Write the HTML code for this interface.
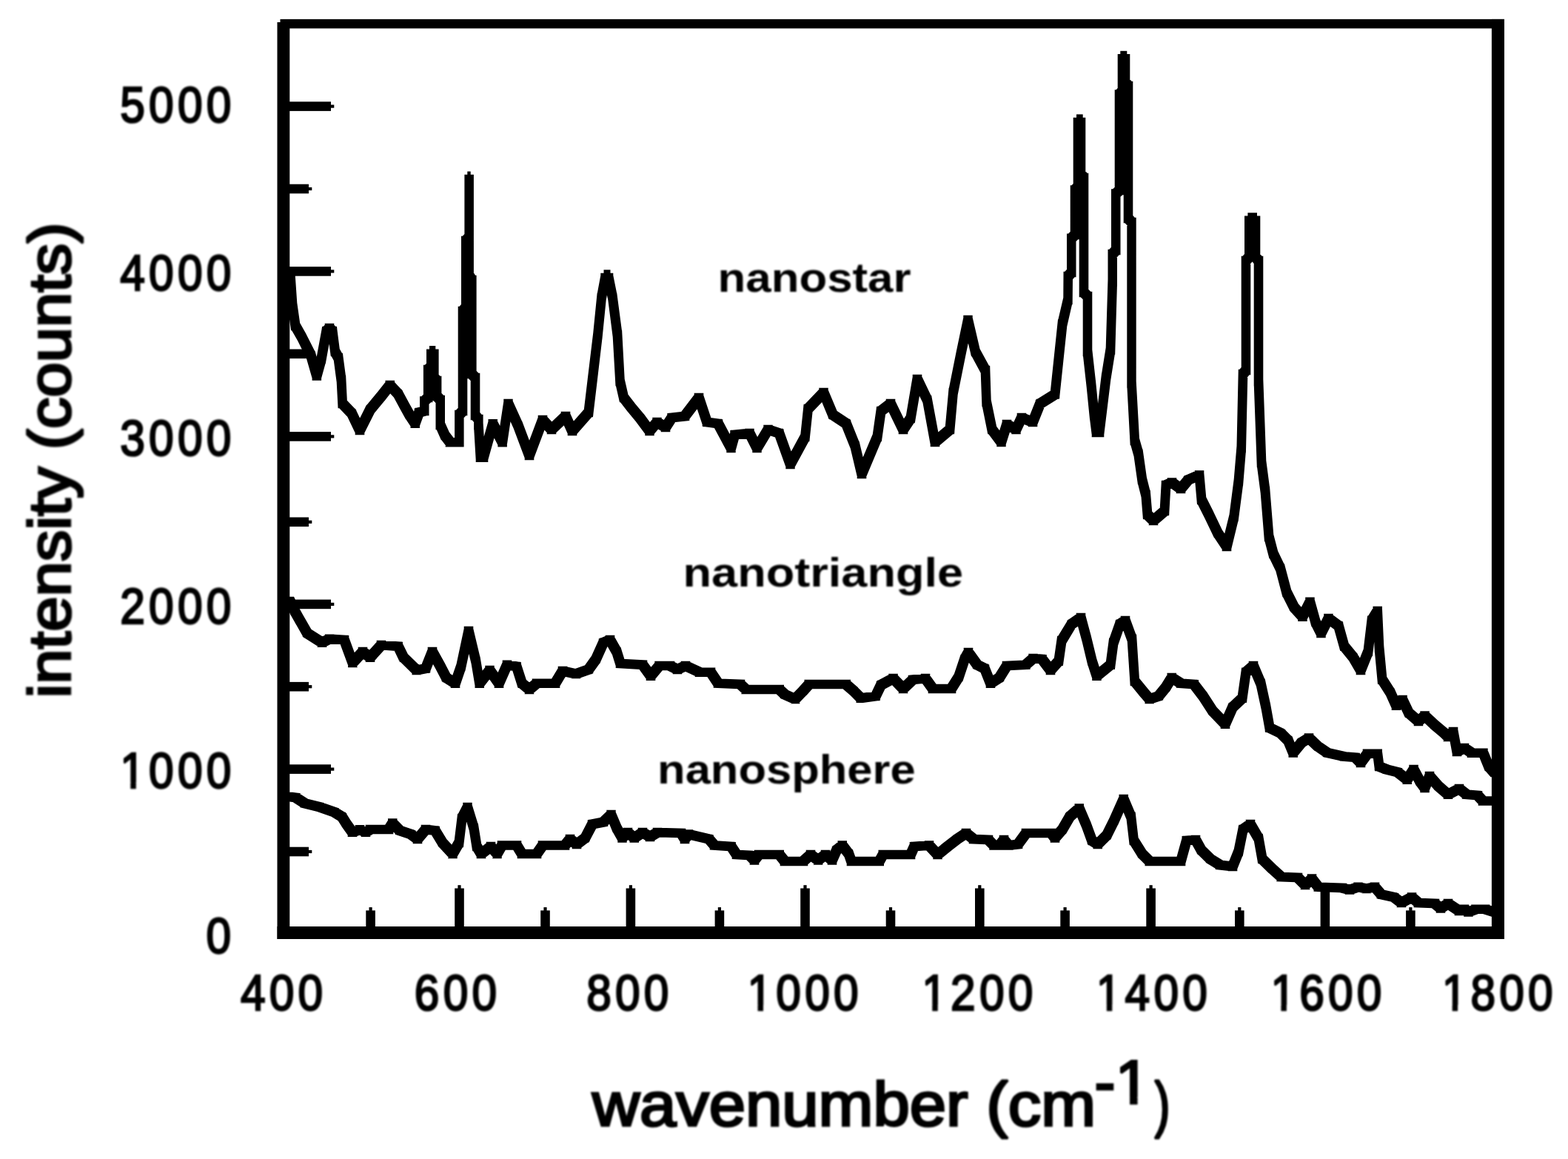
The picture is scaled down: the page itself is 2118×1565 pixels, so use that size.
<!DOCTYPE html>
<html lang="en">
<head>
<meta charset="utf-8">
<title>intensity (counts) vs wavenumber (cm-1)</title>
<style>
html,body{margin:0;padding:0;background:#fff;}
body{width:2118px;height:1565px;}
svg{display:block;}
</style>
</head>
<body>
<svg width="2118" height="1565" viewBox="0 0 2118 1565">
<rect x="0" y="0" width="2118" height="1565" fill="#fff"/>
<g id="curves">
<path d="M389.2,365.2L394.8,365.2L397.8,409.2L397.8,414.8L392.2,414.8L389.2,370.8ZM392.2,409.2L397.8,409.2L401.8,437.2L401.8,442.8L396.2,442.8L392.2,414.8ZM396.2,437.2L401.8,437.2L410.2,452.2L410.2,457.8L404.8,457.8L396.2,442.8ZM404.8,452.2L410.2,452.2L422.8,477.2L422.8,482.8L417.2,482.8L404.8,457.8ZM417.2,477.2L422.8,477.2L430.6,504.8L430.6,510.2L425.1,510.2L417.2,482.8ZM425.1,504.8L431.2,482.2L436.8,482.2L436.8,487.8L430.6,510.2L425.1,510.2ZM431.2,482.2L434.9,462.2L440.4,462.2L440.4,467.8L436.8,487.8L431.2,487.8ZM434.9,462.2L438.2,444.2L443.8,444.2L443.8,449.8L440.4,467.8L434.9,467.8ZM438.2,444.2L442.2,440.2L447.8,440.2L447.8,445.8L443.8,449.8L438.2,449.8ZM442.2,440.2L447.8,440.2L451.8,444.2L451.8,449.8L446.2,449.8L442.2,445.8ZM446.2,444.2L451.8,444.2L455.4,472.2L455.4,477.8L449.9,477.8L446.2,449.8ZM449.9,472.2L455.4,472.2L459.8,480.2L459.8,485.8L454.2,485.8L449.9,477.8ZM454.2,480.2L459.8,480.2L463.8,510.2L463.8,515.8L458.2,515.8L454.2,485.8ZM458.2,510.2L463.8,510.2L465.4,542.2L465.4,547.8L459.9,547.8L458.2,515.8ZM459.9,542.2L465.4,542.2L477.8,555.2L477.8,560.8L472.2,560.8L459.9,547.8ZM472.2,555.2L477.8,555.2L488.8,578.2L488.8,583.8L483.2,583.8L472.2,560.8ZM483.2,578.2L497.2,550.2L502.8,550.2L502.8,555.8L488.8,583.8L483.2,583.8ZM497.2,550.2L512.2,532.2L517.8,532.2L517.8,537.8L502.8,555.8L497.2,555.8ZM512.2,532.2L524,517.2L529.5,517.2L529.5,522.8L517.8,537.8L512.2,537.8ZM524,517.2L529.5,517.2L533.5,521.8L533.5,527.2L528,527.2L524,522.8ZM528,521.8L533.5,521.8L540.5,529.2L540.5,534.8L535,534.8L528,527.2ZM535,529.2L540.5,529.2L548,543.2L548,548.8L542.5,548.8L535,534.8ZM542.5,543.2L548,543.2L555.8,557.2L555.8,562.8L550.2,562.8L542.5,548.8ZM550.2,557.2L555.8,557.2L563.5,568.9L563.5,574.4L558,574.4L550.2,562.8ZM558,568.9L563.2,554.2L568.8,554.2L568.8,559.8L563.5,574.4L558,574.4ZM563.2,554.2L570.5,552.2L576,552.2L576,557.8L568.8,559.8L563.2,559.8ZM570.5,538.8L576,538.8L576,557.8L570.5,557.8ZM570.5,538.8L575.4,534.2L580.9,534.2L580.9,539.8L576,544.2L570.5,544.2ZM575.4,496.2L580.9,496.2L580.9,539.8L575.4,539.8ZM575.4,496.2L579.5,492.2L585,492.2L585,497.8L580.9,501.8L575.4,501.8ZM579.5,474.9L585,474.9L585,497.8L579.5,497.8ZM579.5,474.9L589.1,474.9L589.1,480.4L579.5,480.4ZM583.6,474.9L589.1,474.9L589.1,512.8L583.6,512.8ZM583.6,507.2L589.1,507.2L592.9,511.2L592.9,516.8L587.4,516.8L583.6,512.8ZM587.4,511.2L592.9,511.2L592.9,537.8L587.4,537.8ZM587.4,532.2L592.9,532.2L597.5,537.2L597.5,542.8L592,542.8L587.4,537.8ZM592,537.2L597.5,537.2L597.5,576.8L592,576.8ZM592,571.2L597.5,571.2L603.8,585.2L603.8,590.8L598.2,590.8L592,576.8ZM598.2,585.2L603.8,585.2L610.8,594.5L610.8,600L605.2,600L598.2,590.8ZM605.2,594.5L623.1,594.5L623.1,600L605.2,600ZM617.6,557.2L623.1,557.2L623.1,600L617.6,600ZM617.6,557.2L622.2,552.2L627.8,552.2L627.8,557.8L623.1,562.8L617.6,562.8ZM622.2,417.2L627.8,417.2L627.8,557.8L622.2,557.8ZM622.2,417.2L626.5,412.2L632,412.2L632,417.8L627.8,422.8L622.2,422.8ZM626.5,322.2L632,322.2L632,417.8L626.5,417.8ZM626.5,322.2L630.9,317.2L636.4,317.2L636.4,322.8L632,327.8L626.5,327.8ZM630.9,239.2L636.4,239.2L636.4,322.8L630.9,322.8ZM630.9,239.2L636.4,239.2L636.4,374.8L630.9,374.8ZM630.9,369.2L636.4,369.2L640.1,375.2L640.1,380.8L634.6,380.8L630.9,374.8ZM634.6,375.2L640.1,375.2L640.1,507.8L634.6,507.8ZM634.6,502.2L640.1,502.2L644.8,507.2L644.8,512.8L639.2,512.8L634.6,507.8ZM639.2,507.2L644.8,507.2L644.8,563.8L639.2,563.8ZM639.2,558.2L644.8,558.2L649.1,563.2L649.1,568.8L643.6,568.8L639.2,563.8ZM643.6,563.2L649.1,563.2L649.1,576.8L643.6,576.8ZM643.6,571.2L649.1,571.2L651.8,614.9L651.8,620.4L646.2,620.4L643.6,576.8ZM646.2,614.9L655.8,614.9L655.8,620.4L646.2,620.4ZM650.2,614.9L663,569.4L668.5,569.4L668.5,574.9L655.8,620.4L650.2,620.4ZM663,569.4L668.5,569.4L681.4,594.5L681.4,600L675.9,600L663,574.9ZM675.9,594.5L683.8,542.2L689.2,542.2L689.2,547.8L681.4,600L675.9,600ZM683.8,542.2L689.2,542.2L702.8,572.2L702.8,577.8L697.2,577.8L683.8,547.8ZM697.2,572.2L702.8,572.2L717.8,612.2L717.8,617.8L712.2,617.8L697.2,577.8ZM712.2,612.2L730.2,564.2L735.8,564.2L735.8,569.8L717.8,617.8L712.2,617.8ZM730.2,564.2L735.8,564.2L747.8,577.2L747.8,582.8L742.2,582.8L730.2,569.8ZM742.2,577.2L761.2,559.2L766.8,559.2L766.8,564.8L747.8,582.8L742.2,582.8ZM761.2,559.2L766.8,559.2L775.8,579.2L775.8,584.8L770.2,584.8L761.2,564.8ZM770.2,579.2L792.2,554.2L797.8,554.2L797.8,559.8L775.8,584.8L770.2,584.8ZM792.2,554.2L797.2,512.2L802.8,512.2L802.8,517.8L797.8,559.8L792.2,559.8ZM797.2,512.2L804.8,449.2L810.2,449.2L810.2,454.8L802.8,517.8L797.2,517.8ZM804.8,449.2L809.8,399.2L815.2,399.2L815.2,404.8L810.2,454.8L804.8,454.8ZM809.8,399.2L814.8,372.2L820.2,372.2L820.2,377.8L815.2,404.8L809.8,404.8ZM814.8,372.2L824.8,372.2L824.8,377.8L814.8,377.8ZM819.2,372.2L824.8,372.2L830.2,399.2L830.2,404.8L824.8,404.8L819.2,377.8ZM824.8,399.2L830.2,399.2L836.8,449.2L836.8,454.8L831.2,454.8L824.8,404.8ZM831.2,449.2L836.8,449.2L840.2,512.2L840.2,517.8L834.8,517.8L831.2,454.8ZM834.8,512.2L840.2,512.2L845.2,534.2L845.2,539.8L839.8,539.8L834.8,517.8ZM839.8,534.2L845.2,534.2L855.2,547.2L855.2,552.8L849.8,552.8L839.8,539.8ZM849.8,547.2L855.2,547.2L867.8,562.2L867.8,567.8L862.2,567.8L849.8,552.8ZM862.2,562.2L867.8,562.2L880.2,579.2L880.2,584.8L874.8,584.8L862.2,567.8ZM874.8,579.2L884.8,567.2L890.2,567.2L890.2,572.8L880.2,584.8L874.8,584.8ZM884.8,567.2L890.2,567.2L901.8,574.2L901.8,579.8L896.2,579.8L884.8,572.8ZM896.2,574.2L904.8,561.2L910.2,561.2L910.2,566.8L901.8,579.8L896.2,579.8ZM904.8,561.2L922.2,559.2L927.8,559.2L927.8,564.8L910.2,566.8L904.8,566.8ZM922.2,559.2L941.2,534.2L946.8,534.2L946.8,539.8L927.8,564.8L922.2,564.8ZM941.2,534.2L946.8,534.2L957.8,567.2L957.8,572.8L952.2,572.8L941.2,539.8ZM952.2,567.2L957.8,567.2L972.8,569.2L972.8,574.8L967.2,574.8L952.2,572.8ZM967.2,569.2L972.8,569.2L990.2,602.2L990.2,607.8L984.8,607.8L967.2,574.8ZM984.8,602.2L989.8,584.2L995.2,584.2L995.2,589.8L990.2,607.8L984.8,607.8ZM989.8,584.2L1009.8,582.2L1015.2,582.2L1015.2,587.8L995.2,589.8L989.8,589.8ZM1009.8,582.2L1015.2,582.2L1025.2,602.2L1025.2,607.8L1019.8,607.8L1009.8,587.8ZM1019.8,602.2L1034.8,577.2L1040.2,577.2L1040.2,582.8L1025.2,607.8L1019.8,607.8ZM1034.8,577.2L1040.2,577.2L1055.2,582.2L1055.2,587.8L1049.8,587.8L1034.8,582.8ZM1049.8,582.2L1055.2,582.2L1070.2,624.2L1070.2,629.8L1064.8,629.8L1049.8,587.8ZM1064.8,624.2L1084.8,587.2L1090.2,587.2L1090.2,592.8L1070.2,629.8L1064.8,629.8ZM1084.8,587.2L1088.8,549.2L1094.2,549.2L1094.2,554.8L1090.2,592.8L1084.8,592.8ZM1088.8,549.2L1109.8,527.2L1115.2,527.2L1115.2,532.8L1094.2,554.8L1088.8,554.8ZM1109.8,527.2L1115.2,527.2L1127.8,557.2L1127.8,562.8L1122.2,562.8L1109.8,532.8ZM1122.2,557.2L1127.8,557.2L1145.8,569.2L1145.8,574.8L1140.2,574.8L1122.2,562.8ZM1140.2,569.2L1145.8,569.2L1157.8,599.2L1157.8,604.8L1152.2,604.8L1140.2,574.8ZM1152.2,599.2L1157.8,599.2L1166.8,637.2L1166.8,642.8L1161.2,642.8L1152.2,604.8ZM1161.2,637.2L1182.2,587.2L1187.8,587.2L1187.8,592.8L1166.8,642.8L1161.2,642.8ZM1182.2,587.2L1187.2,552.2L1192.8,552.2L1192.8,557.8L1187.8,592.8L1182.2,592.8ZM1187.2,552.2L1200.2,542.2L1205.8,542.2L1205.8,547.8L1192.8,557.8L1187.2,557.8ZM1200.2,542.2L1205.8,542.2L1222.8,577.2L1222.8,582.8L1217.2,582.8L1200.2,547.8ZM1217.2,577.2L1227.2,562.2L1232.8,562.2L1232.8,567.8L1222.8,582.8L1217.2,582.8ZM1227.2,562.2L1236.2,509.2L1241.8,509.2L1241.8,514.8L1232.8,567.8L1227.2,567.8ZM1236.2,509.2L1241.8,509.2L1255.2,537.2L1255.2,542.8L1249.8,542.8L1236.2,514.8ZM1249.8,537.2L1255.2,537.2L1265.8,594.2L1265.8,599.8L1260.2,599.8L1249.8,542.8ZM1260.2,594.2L1280.2,577.2L1285.8,577.2L1285.8,582.8L1265.8,599.8L1260.2,599.8ZM1280.2,577.2L1284.8,527.2L1290.2,527.2L1290.2,532.8L1285.8,582.8L1280.2,582.8ZM1284.8,527.2L1294.8,477.2L1300.2,477.2L1300.2,482.8L1290.2,532.8L1284.8,532.8ZM1294.8,477.2L1304.8,429.2L1310.2,429.2L1310.2,434.8L1300.2,482.8L1294.8,482.8ZM1304.8,429.2L1310.2,429.2L1320.2,472.2L1320.2,477.8L1314.8,477.8L1304.8,434.8ZM1314.8,472.2L1320.2,472.2L1333.8,497.2L1333.8,502.8L1328.2,502.8L1314.8,477.8ZM1328.2,497.2L1333.8,497.2L1335.2,540.2L1335.2,545.8L1329.8,545.8L1328.2,502.8ZM1329.8,540.2L1335.2,540.2L1342.8,577.2L1342.8,582.8L1337.2,582.8L1329.8,545.8ZM1337.2,577.2L1342.8,577.2L1355.2,594.2L1355.2,599.8L1349.8,599.8L1337.2,582.8ZM1349.8,594.2L1357.2,570.2L1362.8,570.2L1362.8,575.8L1355.2,599.8L1349.8,599.8ZM1357.2,570.2L1362.8,570.2L1375.2,577.2L1375.2,582.8L1369.8,582.8L1357.2,575.8ZM1369.8,577.2L1377.2,561.2L1382.8,561.2L1382.8,566.8L1375.2,582.8L1369.8,582.8ZM1377.2,561.2L1382.8,561.2L1397.8,567.2L1397.8,572.8L1392.2,572.8L1377.2,566.8ZM1392.2,567.2L1402.2,542.2L1407.8,542.2L1407.8,547.8L1397.8,572.8L1392.2,572.8ZM1402.2,542.2L1422.2,529.8L1427.8,529.8L1427.8,535.2L1407.8,547.8L1402.2,547.8ZM1422.2,529.8L1427.2,482.2L1432.8,482.2L1432.8,487.8L1427.8,535.2L1422.2,535.2ZM1427.2,482.2L1432.2,434.8L1437.8,434.8L1437.8,440.2L1432.8,487.8L1427.2,487.8ZM1432.2,434.8L1439.8,402.2L1445.2,402.2L1445.2,407.8L1437.8,440.2L1432.2,440.2ZM1439.8,402.2L1440,370.2L1445.5,370.2L1445.5,375.8L1445.2,407.8L1439.8,407.8ZM1440,370.2L1444.5,365.2L1450,365.2L1450,370.8L1445.5,375.8L1440,375.8ZM1444.5,318.9L1450,318.9L1450,370.8L1444.5,370.8ZM1444.5,318.9L1449.2,314.2L1454.8,314.2L1454.8,319.8L1450,324.4L1444.5,324.4ZM1449.2,253.8L1454.8,253.8L1454.8,319.8L1449.2,319.8ZM1449.2,253.8L1453.2,249.2L1458.8,249.2L1458.8,254.8L1454.8,259.2L1449.2,259.2ZM1453.2,162.2L1458.8,162.2L1458.8,254.8L1453.2,254.8ZM1453.2,162.2L1462.8,162.2L1462.8,167.8L1453.2,167.8ZM1457.2,162.2L1462.8,162.2L1462.8,237.8L1457.2,237.8ZM1457.2,232.2L1462.8,232.2L1466.8,237.2L1466.8,242.8L1461.2,242.8L1457.2,237.8ZM1461.2,237.2L1466.8,237.2L1466.8,397.8L1461.2,397.8ZM1461.2,392.2L1466.8,392.2L1471.8,397.2L1471.8,402.8L1466.2,402.8L1461.2,397.8ZM1466.2,397.2L1471.8,397.2L1471.8,477.8L1466.2,477.8ZM1466.2,472.2L1471.8,472.2L1476.8,517.2L1476.8,522.8L1471.2,522.8L1466.2,477.8ZM1471.2,517.2L1476.8,517.2L1480.8,557.2L1480.8,562.8L1475.2,562.8L1471.2,522.8ZM1475.2,557.2L1480.8,557.2L1483.8,581.2L1483.8,586.8L1478.2,586.8L1475.2,562.8ZM1478.2,581.2L1487.8,581.2L1487.8,586.8L1478.2,586.8ZM1482.2,581.2L1491.2,507.2L1496.8,507.2L1496.8,512.8L1487.8,586.8L1482.2,586.8ZM1491.2,507.2L1497.2,469.8L1502.8,469.8L1502.8,475.2L1496.8,512.8L1491.2,512.8ZM1497.2,469.8L1500,377.2L1505.5,377.2L1505.5,382.8L1502.8,475.2L1497.2,475.2ZM1500,340.2L1505.5,340.2L1505.5,382.8L1500,382.8ZM1500,340.2L1504.5,335.2L1510,335.2L1510,340.8L1505.5,345.8L1500,345.8ZM1504.5,258.8L1510,258.8L1510,340.8L1504.5,340.8ZM1504.5,258.8L1509.2,254.2L1514.8,254.2L1514.8,259.8L1510,264.2L1504.5,264.2ZM1509.2,124.8L1514.8,124.8L1514.8,259.8L1509.2,259.8ZM1509.2,124.8L1513.2,120.2L1518.8,120.2L1518.8,125.8L1514.8,130.3L1509.2,130.3ZM1513.2,76.5L1518.8,76.5L1518.8,125.8L1513.2,125.8ZM1513.2,76.5L1522.8,76.5L1522.8,82L1513.2,82ZM1517.2,76.5L1522.8,76.5L1522.8,113.8L1517.2,113.8ZM1517.2,108.2L1522.8,108.2L1526.8,113.2L1526.8,118.8L1521.2,118.8L1517.2,113.8ZM1521.2,113.2L1526.8,113.2L1526.8,297.8L1521.2,297.8ZM1521.2,292.2L1526.8,292.2L1531.2,297.2L1531.2,302.8L1525.8,302.8L1521.2,297.8ZM1525.8,297.2L1531.2,297.2L1531.2,520.2L1525.8,520.2ZM1525.8,514.8L1531.2,514.8L1535.5,592.2L1535.5,597.8L1530,597.8L1525.8,520.2ZM1530,592.2L1535.5,592.2L1540.5,610L1540.5,615.5L1535,615.5L1530,597.8ZM1535,610L1540.5,610L1545.5,645.2L1545.5,650.8L1540,650.8L1535,615.5ZM1540,645.2L1545.5,645.2L1550.5,665.2L1550.5,670.8L1545,670.8L1540,650.8ZM1545,665.2L1550.5,665.2L1552.8,692.2L1552.8,697.8L1547.2,697.8L1545,670.8ZM1547.2,692.2L1552.8,692.2L1560.8,700.2L1560.8,705.8L1555.2,705.8L1547.2,697.8ZM1555.2,700.2L1570.2,687.2L1575.8,687.2L1575.8,692.8L1560.8,705.8L1555.2,705.8ZM1570.2,687.2L1572.2,652.2L1577.8,652.2L1577.8,657.8L1575.8,692.8L1570.2,692.8ZM1572.2,652.2L1580.2,648.8L1585.8,648.8L1585.8,654.2L1577.8,657.8L1572.2,657.8ZM1580.2,648.8L1585.8,648.8L1597.8,657.2L1597.8,662.8L1592.2,662.8L1580.2,654.2ZM1592.2,657.2L1602.2,645.2L1607.8,645.2L1607.8,650.8L1597.8,662.8L1592.2,662.8ZM1602.2,645.2L1617.2,638.8L1622.8,638.8L1622.8,644.2L1607.8,650.8L1602.2,650.8ZM1617.2,638.8L1622.8,638.8L1625.8,672.2L1625.8,677.8L1620.2,677.8L1617.2,644.2ZM1620.2,672.2L1625.8,672.2L1635.8,692.2L1635.8,697.8L1630.2,697.8L1620.2,677.8ZM1630.2,692.2L1635.8,692.2L1647.8,717.2L1647.8,722.8L1642.2,722.8L1630.2,697.8ZM1642.2,717.2L1647.8,717.2L1659.8,735.2L1659.8,740.8L1654.2,740.8L1642.2,722.8ZM1654.2,735.2L1664,695.2L1669.5,695.2L1669.5,700.8L1659.8,740.8L1654.2,740.8ZM1664,695.2L1670.2,647.2L1675.8,647.2L1675.8,652.8L1669.5,700.8L1664,700.8ZM1670.2,647.2L1674,602.2L1679.5,602.2L1679.5,607.8L1675.8,652.8L1670.2,652.8ZM1674,602.2L1676.2,502.2L1681.8,502.2L1681.8,507.8L1679.5,607.8L1674,607.8ZM1676.2,502.2L1680.2,497.2L1685.8,497.2L1685.8,502.8L1681.8,507.8L1676.2,507.8ZM1680.2,349.2L1685.8,349.2L1685.8,502.8L1680.2,502.8ZM1680.2,349.2L1684.5,344.2L1690,344.2L1690,349.8L1685.8,354.8L1680.2,354.8ZM1684.5,294.9L1690,294.9L1690,349.8L1684.5,349.8ZM1684.5,294.9L1698.8,294.9L1698.8,300.4L1684.5,300.4ZM1693.2,294.9L1698.8,294.9L1698.8,349.8L1693.2,349.8ZM1693.2,344.2L1698.8,344.2L1702.8,349.2L1702.8,354.8L1697.2,354.8L1693.2,349.8ZM1697.2,349.2L1702.8,349.2L1702.8,517.8L1697.2,517.8ZM1697.2,512.2L1702.8,512.2L1706.8,622.2L1706.8,627.8L1701.2,627.8L1697.2,517.8ZM1701.2,622.2L1706.8,622.2L1711.8,660.2L1711.8,665.8L1706.2,665.8L1701.2,627.8ZM1706.2,660.2L1711.8,660.2L1716.8,722.2L1716.8,727.8L1711.2,727.8L1706.2,665.8ZM1711.2,722.2L1716.8,722.2L1722.8,745.2L1722.8,750.8L1717.2,750.8L1711.2,727.8ZM1717.2,745.2L1722.8,745.2L1732.2,764.8L1732.2,770.2L1726.7,770.2L1717.2,750.8ZM1726.7,764.8L1732.2,764.8L1740.8,797.2L1740.8,802.8L1735.2,802.8L1726.7,770.2ZM1735.2,797.2L1740.8,797.2L1750.8,817.2L1750.8,822.8L1745.2,822.8L1735.2,802.8ZM1745.2,817.2L1750.8,817.2L1762.2,829.9L1762.2,835.4L1756.7,835.4L1745.2,822.8ZM1756.7,829.9L1766.7,809.9L1772.2,809.9L1772.2,815.4L1762.2,835.4L1756.7,835.4ZM1766.7,809.9L1772.2,809.9L1779.8,837.2L1779.8,842.8L1774.2,842.8L1766.7,815.4ZM1774.2,837.2L1779.8,837.2L1787.2,852.2L1787.2,857.8L1781.7,857.8L1774.2,842.8ZM1781.7,852.2L1791.7,832.2L1797.2,832.2L1797.2,837.8L1787.2,857.8L1781.7,857.8ZM1791.7,832.2L1797.2,832.2L1810.8,842.2L1810.8,847.8L1805.2,847.8L1791.7,837.8ZM1805.2,842.2L1810.8,842.2L1818.5,870L1818.5,875.5L1813,875.5L1805.2,847.8ZM1813,870L1818.5,870L1830.8,885L1830.8,890.5L1825.2,890.5L1813,875.5ZM1825.2,885L1830.8,885L1840.8,902.2L1840.8,907.8L1835.2,907.8L1825.2,890.5ZM1835.2,902.2L1845.2,877.2L1850.8,877.2L1850.8,882.8L1840.8,907.8L1835.2,907.8ZM1845.2,877.2L1850.2,834.9L1855.8,834.9L1855.8,840.4L1850.8,882.8L1845.2,882.8ZM1850.2,834.9L1858,822.2L1863.5,822.2L1863.5,827.8L1855.8,840.4L1850.2,840.4ZM1858,822.2L1863.5,822.2L1865.8,872.2L1865.8,877.8L1860.2,877.8L1858,827.8ZM1860.2,872.2L1865.8,872.2L1869.8,915L1869.8,920.5L1864.2,920.5L1860.2,877.8ZM1864.2,915L1869.8,915L1880.8,932.2L1880.8,937.8L1875.2,937.8L1864.2,920.5ZM1875.2,932.2L1880.8,932.2L1888.8,950L1888.8,955.5L1883.2,955.5L1875.2,937.8ZM1883.2,950L1891.8,942.2L1897.3,942.2L1897.3,947.8L1888.8,955.5L1883.2,955.5ZM1891.8,942.2L1897.3,942.2L1905.8,960L1905.8,965.5L1900.2,965.5L1891.8,947.8ZM1900.2,960L1905.8,960L1918.8,971.2L1918.8,976.8L1913.2,976.8L1900.2,965.5ZM1913.2,971.2L1921.8,963.8L1927.3,963.8L1927.3,969.2L1918.8,976.8L1913.2,976.8ZM1921.8,963.8L1927.3,963.8L1940.8,976.2L1940.8,981.8L1935.2,981.8L1921.8,969.2ZM1935.2,976.2L1940.8,976.2L1953.8,987.2L1953.8,992.8L1948.2,992.8L1935.2,981.8ZM1948.2,987.2L1953.8,987.2L1958.8,992.2L1958.8,997.8L1953.2,997.8L1948.2,992.8ZM1953.2,992.2L1960.2,985.2L1965.8,985.2L1965.8,990.8L1958.8,997.8L1953.2,997.8ZM1960.2,985.2L1965.8,985.2L1970.8,1012.2L1970.8,1017.8L1965.2,1017.8L1960.2,990.8ZM1965.2,1012.2L1975.2,1007.2L1980.8,1007.2L1980.8,1012.8L1970.8,1017.8L1965.2,1017.8ZM1975.2,1007.2L1980.8,1007.2L1990.8,1013.9L1990.8,1019.4L1985.2,1019.4L1975.2,1012.8ZM1985.2,1013.9L2006.2,1013.9L2006.2,1019.4L1985.2,1019.4ZM2000.7,1013.9L2006.2,1013.9L2013.8,1032.2L2013.8,1037.8L2008.2,1037.8L2000.7,1019.4ZM2008.2,1032.2L2013.8,1032.2L2020.8,1040.2L2020.8,1045.8L2015.2,1045.8L2008.2,1037.8Z" fill="#000" stroke="#000" stroke-width="7.0" stroke-linejoin="miter" fill-rule="nonzero"/>
<path d="M389.2,809.2L394.8,809.2L400.8,822.2L400.8,827.8L395.2,827.8L389.2,814.8ZM395.2,822.2L400.8,822.2L407.8,834.8L407.8,840.2L402.2,840.2L395.2,827.8ZM402.2,834.8L407.8,834.8L417.8,852.2L417.8,857.8L412.2,857.8L402.2,840.2ZM412.2,852.2L417.8,852.2L437.8,864.9L437.8,870.4L432.2,870.4L412.2,857.8ZM432.2,864.9L442.2,859.9L447.8,859.9L447.8,865.4L437.8,870.4L432.2,870.4ZM442.2,859.9L447.8,859.9L467.8,861.2L467.8,866.8L462.2,866.8L442.2,865.4ZM462.2,861.2L467.8,861.2L479.1,892.2L479.1,897.8L473.6,897.8L462.2,866.8ZM473.6,892.2L487.2,877.2L492.8,877.2L492.8,882.8L479.1,897.8L473.6,897.8ZM487.2,877.2L492.8,877.2L502.8,884.9L502.8,890.4L497.2,890.4L487.2,882.8ZM497.2,884.9L512.2,868.2L517.8,868.2L517.8,873.8L502.8,890.4L497.2,890.4ZM512.2,868.2L517.8,868.2L540.5,869.9L540.5,875.4L535,875.4L512.2,873.8ZM535,869.9L540.5,869.9L547.8,884.9L547.8,890.4L542.2,890.4L535,875.4ZM542.2,884.9L547.8,884.9L565.5,902.2L565.5,907.8L560,907.8L542.2,890.4ZM560,902.2L572.2,899.9L577.8,899.9L577.8,905.4L565.5,907.8L560,907.8ZM572.2,899.9L581.2,877.2L586.8,877.2L586.8,882.8L577.8,905.4L572.2,905.4ZM581.2,877.2L586.8,877.2L597.8,897.2L597.8,902.8L592.2,902.8L581.2,882.8ZM592.2,897.2L597.8,897.2L605.5,912.2L605.5,917.8L600,917.8L592.2,902.8ZM600,912.2L605.5,912.2L617.8,919.9L617.8,925.4L612.2,925.4L600,917.8ZM612.2,919.9L620,897.2L625.5,897.2L625.5,902.8L617.8,925.4L612.2,925.4ZM620,897.2L630.2,849.2L635.8,849.2L635.8,854.8L625.5,902.8L620,902.8ZM630.2,849.2L635.8,849.2L645.5,889.9L645.5,895.4L640,895.4L630.2,854.8ZM640,889.9L645.5,889.9L650.5,919.9L650.5,925.4L645,925.4L640,895.4ZM645,919.9L658.8,902.2L664.2,902.2L664.2,907.8L650.5,925.4L645,925.4ZM658.8,902.2L664.2,902.2L676.8,919.9L676.8,925.4L671.2,925.4L658.8,907.8ZM671.2,919.9L682.2,894.9L687.8,894.9L687.8,900.4L676.8,925.4L671.2,925.4ZM682.2,894.9L687.8,894.9L700.5,897.2L700.5,902.8L695,902.8L682.2,900.4ZM695,897.2L700.5,897.2L707.8,919.9L707.8,925.4L702.2,925.4L695,902.8ZM702.2,919.9L707.8,919.9L717.8,928.2L717.8,933.8L712.2,933.8L702.2,925.4ZM712.2,928.2L722.2,919.9L727.8,919.9L727.8,925.4L717.8,933.8L712.2,933.8ZM722.2,919.9L752.8,919.9L752.8,925.4L722.2,925.4ZM747.2,919.9L757.2,903.2L762.8,903.2L762.8,908.8L752.8,925.4L747.2,925.4ZM757.2,903.2L762.8,903.2L780.8,907.2L780.8,912.8L775.2,912.8L757.2,908.8ZM775.2,907.2L792.2,901.2L797.8,901.2L797.8,906.8L780.8,912.8L775.2,912.8ZM792.2,901.2L802.2,887.2L807.8,887.2L807.8,892.8L797.8,906.8L792.2,906.8ZM802.2,887.2L812.2,864.9L817.8,864.9L817.8,870.4L807.8,892.8L802.2,892.8ZM812.2,864.9L821.2,861.2L826.8,861.2L826.8,866.8L817.8,870.4L812.2,870.4ZM821.2,861.2L826.8,861.2L835.8,877.2L835.8,882.8L830.2,882.8L821.2,866.8ZM830.2,877.2L835.8,877.2L840.8,893.2L840.8,898.8L835.2,898.8L830.2,882.8ZM835.2,893.2L840.8,893.2L870.8,894.9L870.8,900.4L865.2,900.4L835.2,898.8ZM865.2,894.9L870.8,894.9L881.8,909.9L881.8,915.4L876.2,915.4L865.2,900.4ZM876.2,909.9L887.8,896.2L893.2,896.2L893.2,901.8L881.8,915.4L876.2,915.4ZM887.8,896.2L907.8,896.2L907.8,901.8L887.8,901.8ZM902.2,896.2L907.8,896.2L917.8,901.2L917.8,906.8L912.2,906.8L902.2,901.8ZM912.2,901.2L923.2,896.2L928.8,896.2L928.8,901.8L917.8,906.8L912.2,906.8ZM923.2,896.2L928.8,896.2L947.8,904.9L947.8,910.4L942.2,910.4L923.2,901.8ZM942.2,904.9L962.8,904.9L962.8,910.4L942.2,910.4ZM957.2,904.9L962.8,904.9L972.8,919.9L972.8,925.4L967.2,925.4L957.2,910.4ZM967.2,919.9L972.8,919.9L1002.8,921.2L1002.8,926.8L997.2,926.8L967.2,925.4ZM997.2,921.2L1002.8,921.2L1010.4,928.2L1010.4,933.8L1004.9,933.8L997.2,926.8ZM1004.9,928.2L1055.5,928.2L1055.5,933.8L1004.9,933.8ZM1050,928.2L1055.5,928.2L1062.8,934.9L1062.8,940.4L1057.2,940.4L1050,933.8ZM1057.2,934.9L1062.8,934.9L1076.8,941.2L1076.8,946.8L1071.2,946.8L1057.2,940.4ZM1071.2,941.2L1082.2,929.9L1087.8,929.9L1087.8,935.4L1076.8,946.8L1071.2,946.8ZM1082.2,929.9L1090,921.2L1095.5,921.2L1095.5,926.8L1087.8,935.4L1082.2,935.4ZM1090,921.2L1145.5,921.2L1145.5,926.8L1090,926.8ZM1140,921.2L1145.5,921.2L1155.5,929.9L1155.5,935.4L1150,935.4L1140,926.8ZM1150,929.9L1155.5,929.9L1165.5,939.9L1165.5,945.4L1160,945.4L1150,935.4ZM1160,939.9L1180,937.2L1185.5,937.2L1185.5,942.8L1165.5,945.4L1160,945.4ZM1180,937.2L1187.2,922.2L1192.8,922.2L1192.8,927.8L1185.5,942.8L1180,942.8ZM1187.2,922.2L1203.8,913.2L1209.3,913.2L1209.3,918.8L1192.8,927.8L1187.2,927.8ZM1203.8,913.2L1209.3,913.2L1222.8,927.2L1222.8,932.8L1217.2,932.8L1203.8,918.8ZM1217.2,927.2L1230.2,914.9L1235.8,914.9L1235.8,920.4L1222.8,932.8L1217.2,932.8ZM1230.2,914.9L1247.2,913.2L1252.8,913.2L1252.8,918.8L1235.8,920.4L1230.2,920.4ZM1247.2,913.2L1252.8,913.2L1262.8,927.2L1262.8,932.8L1257.2,932.8L1247.2,918.8ZM1257.2,927.2L1287.8,927.2L1287.8,932.8L1257.2,932.8ZM1282.2,927.2L1292.2,911.2L1297.8,911.2L1297.8,916.8L1287.8,932.8L1282.2,932.8ZM1292.2,911.2L1300.2,887.2L1305.8,887.2L1305.8,892.8L1297.8,916.8L1292.2,916.8ZM1300.2,887.2L1305.2,878.2L1310.8,878.2L1310.8,883.8L1305.8,892.8L1300.2,892.8ZM1305.2,878.2L1310.8,878.2L1322.8,894.9L1322.8,900.4L1317.2,900.4L1305.2,883.8ZM1317.2,894.9L1322.8,894.9L1332.8,899.9L1332.8,905.4L1327.2,905.4L1317.2,900.4ZM1327.2,899.9L1332.8,899.9L1340.8,919.9L1340.8,925.4L1335.2,925.4L1327.2,905.4ZM1335.2,919.9L1347.2,912.2L1352.8,912.2L1352.8,917.8L1340.8,925.4L1335.2,925.4ZM1347.2,912.2L1357.2,896.2L1362.8,896.2L1362.8,901.8L1352.8,917.8L1347.2,917.8ZM1357.2,896.2L1382.8,894.9L1388.2,894.9L1388.2,900.4L1362.8,901.8L1357.2,901.8ZM1382.8,894.9L1392.8,886.2L1398.2,886.2L1398.2,891.8L1388.2,900.4L1382.8,900.4ZM1392.8,886.2L1398.2,886.2L1410.3,887.2L1410.3,892.8L1404.8,892.8L1392.8,891.8ZM1404.8,887.2L1410.3,887.2L1421.8,902.2L1421.8,907.8L1416.2,907.8L1404.8,892.8ZM1416.2,902.2L1427.2,889.9L1432.8,889.9L1432.8,895.4L1421.8,907.8L1416.2,907.8ZM1427.2,889.9L1431.2,862.2L1436.8,862.2L1436.8,867.8L1432.8,895.4L1427.2,895.4ZM1431.2,862.2L1444.8,839.9L1450.3,839.9L1450.3,845.4L1436.8,867.8L1431.2,867.8ZM1444.8,839.9L1457.2,831.2L1462.8,831.2L1462.8,836.8L1450.3,845.4L1444.8,845.4ZM1457.2,831.2L1462.8,831.2L1470.5,859.9L1470.5,865.4L1465,865.4L1457.2,836.8ZM1465,859.9L1470.5,859.9L1477.8,889.9L1477.8,895.4L1472.2,895.4L1465,865.4ZM1472.2,889.9L1477.8,889.9L1484.2,909.9L1484.2,915.4L1478.7,915.4L1472.2,895.4ZM1478.7,909.9L1497.2,894.9L1502.8,894.9L1502.8,900.4L1484.2,915.4L1478.7,915.4ZM1497.2,894.9L1501.2,864.9L1506.8,864.9L1506.8,870.4L1502.8,900.4L1497.2,900.4ZM1501.2,864.9L1510,839.9L1515.5,839.9L1515.5,845.4L1506.8,870.4L1501.2,870.4ZM1510,839.9L1517.2,835.2L1522.8,835.2L1522.8,840.8L1515.5,845.4L1510,845.4ZM1517.2,835.2L1522.8,835.2L1531.8,859.9L1531.8,865.4L1526.2,865.4L1517.2,840.8ZM1526.2,859.9L1531.8,859.9L1535.5,917.2L1535.5,922.8L1530,922.8L1526.2,865.4ZM1530,917.2L1535.5,917.2L1547.8,932.2L1547.8,937.8L1542.2,937.8L1530,922.8ZM1542.2,932.2L1547.8,932.2L1555.5,941.2L1555.5,946.8L1550,946.8L1542.2,937.8ZM1550,941.2L1562.2,937.2L1567.8,937.2L1567.8,942.8L1555.5,946.8L1550,946.8ZM1562.2,937.2L1572.2,924.9L1577.8,924.9L1577.8,930.4L1567.8,942.8L1562.2,942.8ZM1572.2,924.9L1580,912.2L1585.5,912.2L1585.5,917.8L1577.8,930.4L1572.2,930.4ZM1580,912.2L1585.5,912.2L1597.8,919.9L1597.8,925.4L1592.2,925.4L1580,917.8ZM1592.2,919.9L1597.8,919.9L1615.5,921.2L1615.5,926.8L1610,926.8L1592.2,925.4ZM1610,921.2L1615.5,921.2L1627.8,937.2L1627.8,942.8L1622.2,942.8L1610,926.8ZM1622.2,937.2L1627.8,937.2L1640.8,957.2L1640.8,962.8L1635.2,962.8L1622.2,942.8ZM1635.2,957.2L1640.8,957.2L1657.8,975L1657.8,980.5L1652.2,980.5L1635.2,962.8ZM1652.2,975L1662.2,952.2L1667.8,952.2L1667.8,957.8L1657.8,980.5L1652.2,980.5ZM1662.2,952.2L1675.2,939.9L1680.8,939.9L1680.8,945.4L1667.8,957.8L1662.2,957.8ZM1675.2,939.9L1680.2,904.9L1685.8,904.9L1685.8,910.4L1680.8,945.4L1675.2,945.4ZM1680.2,904.9L1690.2,896.2L1695.8,896.2L1695.8,901.8L1685.8,910.4L1680.2,910.4ZM1690.2,896.2L1695.8,896.2L1705.8,919.9L1705.8,925.4L1700.2,925.4L1690.2,901.8ZM1700.2,919.9L1705.8,919.9L1712.8,952.2L1712.8,957.8L1707.2,957.8L1700.2,925.4ZM1707.2,952.2L1712.8,952.2L1717.8,980L1717.8,985.5L1712.2,985.5L1707.2,957.8ZM1712.2,980L1717.8,980L1732.8,987.2L1732.8,992.8L1727.2,992.8L1712.2,985.5ZM1727.2,987.2L1732.8,987.2L1742.8,997.2L1742.8,1002.8L1737.2,1002.8L1727.2,992.8ZM1737.2,997.2L1742.8,997.2L1749.5,1013.8L1749.5,1019.2L1744,1019.2L1737.2,1002.8ZM1744,1013.8L1755.2,1000L1760.8,1000L1760.8,1005.5L1749.5,1019.2L1744,1019.2ZM1755.2,1000L1765.2,993.8L1770.8,993.8L1770.8,999.2L1760.8,1005.5L1755.2,1005.5ZM1765.2,993.8L1770.8,993.8L1782.8,1005L1782.8,1010.5L1777.2,1010.5L1765.2,999.2ZM1777.2,1005L1782.8,1005L1795.8,1013.8L1795.8,1019.2L1790.2,1019.2L1777.2,1010.5ZM1790.2,1013.8L1795.8,1013.8L1818.2,1018.8L1818.2,1024.2L1812.8,1024.2L1790.2,1019.2ZM1812.8,1018.8L1818.2,1018.8L1833.5,1020L1833.5,1025.5L1828,1025.5L1812.8,1024.2ZM1828,1020L1833.5,1020L1840.8,1027.2L1840.8,1032.8L1835.2,1032.8L1828,1025.5ZM1835.2,1027.2L1844.2,1015L1849.8,1015L1849.8,1020.5L1840.8,1032.8L1835.2,1032.8ZM1844.2,1015L1863.5,1015L1863.5,1020.5L1844.2,1020.5ZM1858,1015L1863.5,1015L1865.8,1032.2L1865.8,1037.8L1860.2,1037.8L1858,1020.5ZM1860.2,1032.2L1865.8,1032.2L1875.8,1036.2L1875.8,1041.8L1870.2,1041.8L1860.2,1037.8ZM1870.2,1036.2L1875.8,1036.2L1890.8,1040L1890.8,1045.5L1885.2,1045.5L1870.2,1041.8ZM1885.2,1040L1890.8,1040L1903.5,1050L1903.5,1055.5L1898,1055.5L1885.2,1045.5ZM1898,1050L1906.8,1036.2L1912.3,1036.2L1912.3,1041.8L1903.5,1055.5L1898,1055.5ZM1906.8,1036.2L1912.3,1036.2L1920.8,1052.2L1920.8,1057.8L1915.2,1057.8L1906.8,1041.8ZM1915.2,1052.2L1920.8,1052.2L1927.3,1061.2L1927.3,1066.8L1921.8,1066.8L1915.2,1057.8ZM1921.8,1061.2L1928.2,1045.2L1933.8,1045.2L1933.8,1050.8L1927.3,1066.8L1921.8,1066.8ZM1928.2,1045.2L1933.8,1045.2L1945.8,1058.8L1945.8,1064.3L1940.2,1064.3L1928.2,1050.8ZM1940.2,1058.8L1945.8,1058.8L1958.8,1070L1958.8,1075.5L1953.2,1075.5L1940.2,1064.3ZM1953.2,1070L1968.2,1062.2L1973.8,1062.2L1973.8,1067.8L1958.8,1075.5L1953.2,1075.5ZM1968.2,1062.2L1973.8,1062.2L1983.8,1070L1983.8,1075.5L1978.2,1075.5L1968.2,1067.8ZM1978.2,1070L1983.8,1070L1998.8,1071.2L1998.8,1076.8L1993.2,1076.8L1978.2,1075.5ZM1993.2,1071.2L1998.8,1071.2L2005.8,1078.8L2005.8,1084.3L2000.2,1084.3L1993.2,1076.8ZM2000.2,1078.8L2020.8,1078.8L2020.8,1084.3L2000.2,1084.3Z" fill="#000" stroke="#000" stroke-width="7.0" stroke-linejoin="miter" fill-rule="nonzero"/>
<path d="M389.2,1073.2L394.8,1073.2L402.4,1074.2L402.4,1079.8L396.9,1079.8L389.2,1078.8ZM396.9,1074.2L402.4,1074.2L414.4,1082L414.4,1087.5L408.9,1087.5L396.9,1079.8ZM408.9,1082L414.4,1082L434.6,1087L434.6,1092.5L429.1,1092.5L408.9,1087.5ZM429.1,1087L434.6,1087L454.6,1094L454.6,1099.5L449.1,1099.5L429.1,1092.5ZM449.1,1094L454.6,1094L464.8,1100.2L464.8,1105.8L459.2,1105.8L449.1,1099.5ZM459.2,1100.2L464.8,1100.2L470.4,1109.2L470.4,1114.8L464.9,1114.8L459.2,1105.8ZM464.9,1109.2L470.4,1109.2L478.8,1121L478.8,1126.5L473.2,1126.5L464.9,1114.8ZM473.2,1121L483.2,1117.5L488.8,1117.5L488.8,1123L478.8,1126.5L473.2,1126.5ZM483.2,1117.5L488.8,1117.5L496.8,1121L496.8,1126.5L491.2,1126.5L483.2,1123ZM491.2,1121L497.2,1117.2L502.8,1117.2L502.8,1122.8L496.8,1126.5L491.2,1126.5ZM497.2,1117.2L527.8,1117.2L527.8,1122.8L497.2,1122.8ZM522.2,1117.2L527.5,1108.8L533,1108.8L533,1114.2L527.8,1122.8L522.2,1122.8ZM527.5,1108.8L533,1108.8L542.8,1118.8L542.8,1124.3L537.2,1124.3L527.5,1114.2ZM537.2,1118.8L542.8,1118.8L557.8,1123.8L557.8,1129.3L552.2,1129.3L537.2,1124.3ZM552.2,1123.8L557.8,1123.8L566.8,1130.2L566.8,1135.8L561.2,1135.8L552.2,1129.3ZM561.2,1130.2L572.2,1117.2L577.8,1117.2L577.8,1122.8L566.8,1135.8L561.2,1135.8ZM572.2,1117.2L577.8,1117.2L590.5,1118.8L590.5,1124.3L585,1124.3L572.2,1122.8ZM585,1118.8L590.5,1118.8L600.5,1135.2L600.5,1140.8L595,1140.8L585,1124.3ZM595,1135.2L600.5,1135.2L614.2,1150.2L614.2,1155.8L608.8,1155.8L595,1140.8ZM608.8,1150.2L617.2,1135.2L622.8,1135.2L622.8,1140.8L614.2,1155.8L608.8,1155.8ZM617.2,1135.2L621.2,1102.2L626.8,1102.2L626.8,1107.8L622.8,1140.8L617.2,1140.8ZM621.2,1102.2L628.8,1087.2L634.2,1087.2L634.2,1092.8L626.8,1107.8L621.2,1107.8ZM628.8,1087.2L634.2,1087.2L642.8,1115.2L642.8,1120.8L637.2,1120.8L628.8,1092.8ZM637.2,1115.2L642.8,1115.2L646.8,1140.2L646.8,1145.8L641.2,1145.8L637.2,1120.8ZM641.2,1140.2L646.8,1140.2L652.8,1150.2L652.8,1155.8L647.2,1155.8L641.2,1145.8ZM647.2,1150.2L660.2,1140.2L665.8,1140.2L665.8,1145.8L652.8,1155.8L647.2,1155.8ZM660.2,1140.2L665.8,1140.2L674.2,1150.2L674.2,1155.8L668.8,1155.8L660.2,1145.8ZM668.8,1150.2L675.2,1138.8L680.8,1138.8L680.8,1144.3L674.2,1155.8L668.8,1155.8ZM675.2,1138.8L700.8,1138.8L700.8,1144.3L675.2,1144.3ZM695.2,1138.8L700.8,1138.8L707.8,1150.2L707.8,1155.8L702.2,1155.8L695.2,1144.3ZM702.2,1150.2L727.8,1150.2L727.8,1155.8L702.2,1155.8ZM722.2,1150.2L730.2,1138.8L735.8,1138.8L735.8,1144.3L727.8,1155.8L722.2,1155.8ZM730.2,1138.8L765.8,1138.8L765.8,1144.3L730.2,1144.3ZM760.2,1138.8L767.2,1130.2L772.8,1130.2L772.8,1135.8L765.8,1144.3L760.2,1144.3ZM767.2,1130.2L772.8,1130.2L781.8,1137.2L781.8,1142.8L776.2,1142.8L767.2,1135.8ZM776.2,1137.2L787.6,1128.8L793.1,1128.8L793.1,1134.3L781.8,1142.8L776.2,1142.8ZM787.6,1128.8L797.2,1110.2L802.8,1110.2L802.8,1115.8L793.1,1134.3L787.6,1134.3ZM797.2,1110.2L812.2,1107.2L817.8,1107.2L817.8,1112.8L802.8,1115.8L797.2,1115.8ZM812.2,1107.2L822.8,1097.2L828.2,1097.2L828.2,1102.8L817.8,1112.8L812.2,1112.8ZM822.8,1097.2L828.2,1097.2L835.8,1115.2L835.8,1120.8L830.2,1120.8L822.8,1102.8ZM830.2,1115.2L835.8,1115.2L843.2,1128.8L843.2,1134.3L837.8,1134.3L830.2,1120.8ZM837.8,1128.8L845.2,1121.2L850.8,1121.2L850.8,1126.8L843.2,1134.3L837.8,1134.3ZM845.2,1121.2L850.8,1121.2L859.5,1128.8L859.5,1134.3L854,1134.3L845.2,1126.8ZM854,1128.8L865.2,1121.2L870.8,1121.2L870.8,1126.8L859.5,1134.3L854,1134.3ZM865.2,1121.2L870.8,1121.2L880.8,1127.2L880.8,1132.8L875.2,1132.8L865.2,1126.8ZM875.2,1127.2L885.2,1121.2L890.8,1121.2L890.8,1126.8L880.8,1132.8L875.2,1132.8ZM885.2,1121.2L890.8,1121.2L922.8,1122.2L922.8,1127.8L917.2,1127.8L885.2,1126.8ZM917.2,1122.2L922.8,1122.2L927.8,1130.2L927.8,1135.8L922.2,1135.8L917.2,1127.8ZM922.2,1130.2L927.2,1123.8L932.8,1123.8L932.8,1129.3L927.8,1135.8L922.2,1135.8ZM927.2,1123.8L932.8,1123.8L960.4,1130.2L960.4,1135.8L954.9,1135.8L927.2,1129.3ZM954.9,1130.2L960.4,1130.2L967.8,1138.8L967.8,1144.3L962.2,1144.3L954.9,1135.8ZM962.2,1138.8L967.8,1138.8L990.4,1140.2L990.4,1145.8L984.9,1145.8L962.2,1144.3ZM984.9,1140.2L990.4,1140.2L997.8,1151.2L997.8,1156.8L992.2,1156.8L984.9,1145.8ZM992.2,1151.2L997.8,1151.2L1015.4,1152.2L1015.4,1157.8L1009.9,1157.8L992.2,1156.8ZM1009.9,1152.2L1015.4,1152.2L1021.8,1158.8L1021.8,1164.3L1016.2,1164.3L1009.9,1157.8ZM1016.2,1158.8L1022.2,1151.2L1027.8,1151.2L1027.8,1156.8L1021.8,1164.3L1016.2,1164.3ZM1022.2,1151.2L1055.5,1151.2L1055.5,1156.8L1022.2,1156.8ZM1050,1151.2L1055.5,1151.2L1062.8,1160.2L1062.8,1165.8L1057.2,1165.8L1050,1156.8ZM1057.2,1160.2L1087.8,1160.2L1087.8,1165.8L1057.2,1165.8ZM1082.2,1160.2L1092.2,1151.2L1097.8,1151.2L1097.8,1156.8L1087.8,1165.8L1082.2,1165.8ZM1092.2,1151.2L1097.8,1151.2L1107.8,1158.8L1107.8,1164.3L1102.2,1164.3L1092.2,1156.8ZM1102.2,1158.8L1112.2,1151.2L1117.8,1151.2L1117.8,1156.8L1107.8,1164.3L1102.2,1164.3ZM1112.2,1151.2L1117.8,1151.2L1126.8,1158.8L1126.8,1164.3L1121.2,1164.3L1112.2,1156.8ZM1121.2,1158.8L1127.2,1145.2L1132.8,1145.2L1132.8,1150.8L1126.8,1164.3L1121.2,1164.3ZM1127.2,1145.2L1135,1138.8L1140.5,1138.8L1140.5,1144.3L1132.8,1150.8L1127.2,1150.8ZM1135,1138.8L1140.5,1138.8L1149.2,1150.2L1149.2,1155.8L1143.8,1155.8L1135,1144.3ZM1143.8,1150.2L1149.2,1150.2L1152.8,1160.2L1152.8,1165.8L1147.2,1165.8L1143.8,1155.8ZM1147.2,1160.2L1190.5,1160.2L1190.5,1165.8L1147.2,1165.8ZM1185,1160.2L1190,1151.2L1195.5,1151.2L1195.5,1156.8L1190.5,1165.8L1185,1165.8ZM1190,1151.2L1232.8,1151.2L1232.8,1156.8L1190,1156.8ZM1227.2,1151.2L1232.2,1140.2L1237.8,1140.2L1237.8,1145.8L1232.8,1156.8L1227.2,1156.8ZM1232.2,1140.2L1252.2,1138.8L1257.8,1138.8L1257.8,1144.3L1237.8,1145.8L1232.2,1145.8ZM1252.2,1138.8L1257.8,1138.8L1269.3,1151.2L1269.3,1156.8L1263.8,1156.8L1252.2,1144.3ZM1263.8,1151.2L1277.2,1140.2L1282.8,1140.2L1282.8,1145.8L1269.3,1156.8L1263.8,1156.8ZM1277.2,1140.2L1290.2,1130.2L1295.8,1130.2L1295.8,1135.8L1282.8,1145.8L1277.2,1145.8ZM1290.2,1130.2L1302.2,1122.2L1307.8,1122.2L1307.8,1127.8L1295.8,1135.8L1290.2,1135.8ZM1302.2,1122.2L1307.8,1122.2L1317.8,1130.2L1317.8,1135.8L1312.2,1135.8L1302.2,1127.8ZM1312.2,1130.2L1317.8,1130.2L1337.8,1131.2L1337.8,1136.8L1332.2,1136.8L1312.2,1135.8ZM1332.2,1131.2L1337.8,1131.2L1345.2,1138.8L1345.2,1144.3L1339.8,1144.3L1332.2,1136.8ZM1339.8,1138.8L1352.8,1138.8L1352.8,1144.3L1339.8,1144.3ZM1347.2,1138.8L1353.2,1131.2L1358.8,1131.2L1358.8,1136.8L1352.8,1144.3L1347.2,1144.3ZM1353.2,1131.2L1358.8,1131.2L1365.2,1138.8L1365.2,1144.3L1359.8,1144.3L1353.2,1136.8ZM1359.8,1138.8L1372.2,1137.2L1377.8,1137.2L1377.8,1142.8L1365.2,1144.3L1359.8,1144.3ZM1372.2,1137.2L1383.2,1122.2L1388.8,1122.2L1388.8,1127.8L1377.8,1142.8L1372.2,1142.8ZM1383.2,1122.2L1422.8,1122.2L1422.8,1127.8L1383.2,1127.8ZM1417.2,1122.2L1422.8,1122.2L1427.8,1128.8L1427.8,1134.3L1422.2,1134.3L1417.2,1127.8ZM1422.2,1128.8L1432.2,1117.2L1437.8,1117.2L1437.8,1122.8L1427.8,1134.3L1422.2,1134.3ZM1432.2,1117.2L1442.2,1100L1447.8,1100L1447.8,1105.5L1437.8,1122.8L1432.2,1122.8ZM1442.2,1100L1455,1088.8L1460.5,1088.8L1460.5,1094.2L1447.8,1105.5L1442.2,1105.5ZM1455,1088.8L1460.5,1088.8L1470.5,1112.2L1470.5,1117.8L1465,1117.8L1455,1094.2ZM1465,1112.2L1470.5,1112.2L1477.8,1132.2L1477.8,1137.8L1472.2,1137.8L1465,1117.8ZM1472.2,1132.2L1477.8,1132.2L1485.5,1137.2L1485.5,1142.8L1480,1142.8L1472.2,1137.8ZM1480,1137.2L1492.2,1125L1497.8,1125L1497.8,1130.5L1485.5,1142.8L1480,1142.8ZM1492.2,1125L1502.2,1105L1507.8,1105L1507.8,1110.5L1497.8,1130.5L1492.2,1130.5ZM1502.2,1105L1515,1076.2L1520.5,1076.2L1520.5,1081.8L1507.8,1110.5L1502.2,1110.5ZM1515,1076.2L1520.5,1076.2L1530.5,1100L1530.5,1105.5L1525,1105.5L1515,1081.8ZM1525,1100L1530.5,1100L1534.2,1132.2L1534.2,1137.8L1528.8,1137.8L1525,1105.5ZM1528.8,1132.2L1534.2,1132.2L1545.5,1150.2L1545.5,1155.8L1540,1155.8L1528.8,1137.8ZM1540,1150.2L1545.5,1150.2L1555.5,1160.2L1555.5,1165.8L1550,1165.8L1540,1155.8ZM1550,1160.2L1597.8,1160.2L1597.8,1165.8L1550,1165.8ZM1592.2,1160.2L1600,1132.2L1605.5,1132.2L1605.5,1137.8L1597.8,1165.8L1592.2,1165.8ZM1600,1132.2L1612.2,1131.2L1617.8,1131.2L1617.8,1136.8L1605.5,1137.8L1600,1137.8ZM1612.2,1131.2L1617.8,1131.2L1625.5,1145.2L1625.5,1150.8L1620,1150.8L1612.2,1136.8ZM1620,1145.2L1625.5,1145.2L1637.8,1157.2L1637.8,1162.8L1632.2,1162.8L1620,1150.8ZM1632.2,1157.2L1637.8,1157.2L1650.8,1165.2L1650.8,1170.8L1645.2,1170.8L1632.2,1162.8ZM1645.2,1165.2L1650.8,1165.2L1667.8,1167.2L1667.8,1172.8L1662.2,1172.8L1645.2,1170.8ZM1662.2,1167.2L1670.2,1147.2L1675.8,1147.2L1675.8,1152.8L1667.8,1172.8L1662.2,1172.8ZM1670.2,1147.2L1676.2,1117.2L1681.8,1117.2L1681.8,1122.8L1675.8,1152.8L1670.2,1152.8ZM1676.2,1117.2L1686.2,1110.2L1691.8,1110.2L1691.8,1115.8L1681.8,1122.8L1676.2,1122.8ZM1686.2,1110.2L1691.8,1110.2L1702.8,1129.2L1702.8,1134.8L1697.2,1134.8L1686.2,1115.8ZM1697.2,1129.2L1702.8,1129.2L1707.8,1157.2L1707.8,1162.8L1702.2,1162.8L1697.2,1134.8ZM1702.2,1157.2L1707.8,1157.2L1720.8,1170L1720.8,1175.5L1715.2,1175.5L1702.2,1162.8ZM1715.2,1170L1720.8,1170L1733.3,1181.2L1733.3,1186.8L1727.8,1186.8L1715.2,1175.5ZM1727.8,1181.2L1733.3,1181.2L1755.8,1182.2L1755.8,1187.8L1750.2,1187.8L1727.8,1186.8ZM1750.2,1182.2L1755.8,1182.2L1765.8,1192.2L1765.8,1197.8L1760.2,1197.8L1750.2,1187.8ZM1760.2,1192.2L1769.2,1183.8L1774.8,1183.8L1774.8,1189.2L1765.8,1197.8L1760.2,1197.8ZM1769.2,1183.8L1774.8,1183.8L1783.5,1195L1783.5,1200.5L1778,1200.5L1769.2,1189.2ZM1778,1195L1783.5,1195L1815.8,1196.2L1815.8,1201.8L1810.2,1201.8L1778,1200.5ZM1810.2,1196.2L1815.8,1196.2L1825.8,1198.8L1825.8,1204.2L1820.2,1204.2L1810.2,1201.8ZM1820.2,1198.8L1831.8,1195L1837.2,1195L1837.2,1200.5L1825.8,1204.2L1820.2,1204.2ZM1831.8,1195L1837.2,1195L1848.5,1197.2L1848.5,1202.8L1843,1202.8L1831.8,1200.5ZM1843,1197.2L1854.2,1195L1859.8,1195L1859.8,1200.5L1848.5,1202.8L1843,1202.8ZM1854.2,1195L1859.8,1195L1868.5,1205L1868.5,1210.5L1863,1210.5L1854.2,1200.5ZM1863,1205L1868.5,1205L1885.8,1208.8L1885.8,1214.2L1880.2,1214.2L1863,1210.5ZM1880.2,1208.8L1885.8,1208.8L1895.8,1216.2L1895.8,1221.8L1890.2,1221.8L1880.2,1214.2ZM1890.2,1216.2L1904.2,1208.8L1909.8,1208.8L1909.8,1214.2L1895.8,1221.8L1890.2,1221.8ZM1904.2,1208.8L1909.8,1208.8L1918.5,1216.2L1918.5,1221.8L1913,1221.8L1904.2,1214.2ZM1913,1216.2L1918.5,1216.2L1940.8,1217.2L1940.8,1222.8L1935.2,1222.8L1913,1221.8ZM1935.2,1217.2L1940.8,1217.2L1948.8,1223.8L1948.8,1229.2L1943.2,1229.2L1935.2,1222.8ZM1943.2,1223.8L1953.2,1217.2L1958.8,1217.2L1958.8,1222.8L1948.8,1229.2L1943.2,1229.2ZM1953.2,1217.2L1958.8,1217.2L1973.8,1227.2L1973.8,1232.8L1968.2,1232.8L1953.2,1222.8ZM1968.2,1227.2L1975.2,1225L1980.8,1225L1980.8,1230.5L1973.8,1232.8L1968.2,1232.8ZM1975.2,1225L1980.8,1225L1986.2,1228.8L1986.2,1234.2L1980.7,1234.2L1975.2,1230.5ZM1980.7,1228.8L1990.7,1225L1996.2,1225L1996.2,1230.5L1986.2,1234.2L1980.7,1234.2ZM1990.7,1225L2008.8,1225L2008.8,1230.5L1990.7,1230.5ZM2003.2,1225L2008.8,1225L2020.8,1228.8L2020.8,1234.2L2015.2,1234.2L2003.2,1230.5Z" fill="#000" stroke="#000" stroke-width="7.0" stroke-linejoin="miter" fill-rule="nonzero"/>
<rect x="631.3" y="231.5" width="4.4" height="5" fill="#000"/>
<rect x="1454" y="154.4" width="8.7" height="5" fill="#000"/>
<rect x="1513.3" y="68.8" width="9" height="5" fill="#000"/>
<rect x="1685.4" y="287.3" width="12.6" height="5" fill="#000"/>
<rect x="580" y="467" width="8.3" height="5" fill="#000"/>
<rect x="815.5" y="364.3" width="9" height="5" fill="#000"/>
</g>
<g id="frame" fill="#000">
<rect x="374.5" y="30" width="16.8" height="1238.0"/>
<rect x="378.5" y="25.9" width="1653.5" height="12.5"/>
<rect x="2014.9" y="25.9" width="17.1" height="1242.1"/>
<rect x="374.5" y="1251.0" width="1657.5" height="17.0"/>
<rect x="390.3" y="1143.7" width="26.7" height="12.6"/>
<rect x="416.5" y="1147.9" width="4.8" height="4.2"/>
<rect x="390.3" y="1032.3" width="56.7" height="12.6"/>
<rect x="446.5" y="1036.5" width="4.8" height="4.2"/>
<rect x="390.3" y="920.9" width="26.7" height="12.6"/>
<rect x="416.5" y="925.1" width="4.8" height="4.2"/>
<rect x="390.3" y="809.6" width="56.7" height="12.6"/>
<rect x="446.5" y="813.8" width="4.8" height="4.2"/>
<rect x="390.3" y="698.5" width="26.7" height="12.6"/>
<rect x="416.5" y="702.7" width="4.8" height="4.2"/>
<rect x="390.3" y="583.1" width="56.7" height="12.6"/>
<rect x="446.5" y="587.3" width="4.8" height="4.2"/>
<rect x="390.3" y="471.5" width="26.7" height="12.6"/>
<rect x="416.5" y="475.7" width="4.8" height="4.2"/>
<rect x="390.3" y="360.1" width="56.7" height="12.6"/>
<rect x="446.5" y="364.3" width="4.8" height="4.2"/>
<rect x="390.3" y="248.7" width="26.7" height="12.6"/>
<rect x="416.5" y="252.9" width="4.8" height="4.2"/>
<rect x="390.3" y="137.3" width="56.7" height="12.6"/>
<rect x="446.5" y="141.5" width="4.8" height="4.2"/>
<rect x="494.3" y="1229.4" width="12.6" height="22.6"/>
<rect x="498.5" y="1225.1" width="4.2" height="4.8"/>
<rect x="614.2" y="1199.5" width="12.6" height="52.5"/>
<rect x="618.4" y="1195.2" width="4.2" height="4.8"/>
<rect x="730.2" y="1229.4" width="12.6" height="22.6"/>
<rect x="734.4" y="1225.1" width="4.2" height="4.8"/>
<rect x="845.6" y="1199.5" width="12.6" height="52.5"/>
<rect x="849.8" y="1195.2" width="4.2" height="4.8"/>
<rect x="965.6" y="1229.4" width="12.6" height="22.6"/>
<rect x="969.8" y="1225.1" width="4.2" height="4.8"/>
<rect x="1081.2" y="1199.5" width="12.6" height="52.5"/>
<rect x="1085.4" y="1195.2" width="4.2" height="4.8"/>
<rect x="1196.7" y="1229.4" width="12.6" height="22.6"/>
<rect x="1200.9" y="1225.1" width="4.2" height="4.8"/>
<rect x="1317.0" y="1199.5" width="12.6" height="52.5"/>
<rect x="1321.2" y="1195.2" width="4.2" height="4.8"/>
<rect x="1432.3" y="1229.4" width="12.6" height="22.6"/>
<rect x="1436.5" y="1225.1" width="4.2" height="4.8"/>
<rect x="1548.3" y="1199.5" width="12.6" height="52.5"/>
<rect x="1552.5" y="1195.2" width="4.2" height="4.8"/>
<rect x="1668.0" y="1229.4" width="12.6" height="22.6"/>
<rect x="1672.2" y="1225.1" width="4.2" height="4.8"/>
<rect x="1783.6" y="1199.5" width="12.6" height="52.5"/>
<rect x="1787.8" y="1195.2" width="4.2" height="4.8"/>
<rect x="1899.1" y="1229.4" width="12.6" height="22.6"/>
<rect x="1903.3" y="1225.1" width="4.2" height="4.8"/>
</g>
<defs><clipPath id="c1_69_2_6" clipPathUnits="userSpaceOnUse"><rect x="-20" y="-82.8" width="414" height="75.5"/><rect x="16.1" y="-8.3" width="8.4" height="27.6"/><rect x="37.6" y="-8.3" width="414" height="27.6"/></clipPath><clipPath id="cx" clipPathUnits="userSpaceOnUse"><rect x="700" y="1380" width="808.9" height="185"/><rect x="1552.8" y="1380" width="147.2" height="185"/><rect x="1507.9" y="1380" width="45.8" height="101.2"/><rect x="1526.1" y="1480.2" width="10.4" height="20"/><rect x="1507.9" y="1493.1" width="45.8" height="70"/></clipPath><filter id="soft" x="-5%" y="-5%" width="110%" height="110%"><feGaussianBlur stdDeviation="1.1"/></filter></defs>
<g id="labels" font-family="'Liberation Sans', sans-serif" fill="#000" filter="url(#soft)">
<text transform="translate(278.62,1287.20) scale(0.8750,1)" style="font-kerning:none" font-size="69" stroke="#000" stroke-width="2.6" stroke-linejoin="miter" stroke-miterlimit="2" letter-spacing="6.0">0</text>
<text transform="translate(162.25,1063.80) scale(0.8750,1)" style="font-kerning:none" font-size="69" stroke="#000" stroke-width="2.6" stroke-linejoin="miter" stroke-miterlimit="2" letter-spacing="6.0" clip-path="url(#c1_69_2_6)">1000</text>
<text transform="translate(162.25,841.80) scale(0.8750,1)" style="font-kerning:none" font-size="69" stroke="#000" stroke-width="2.6" stroke-linejoin="miter" stroke-miterlimit="2" letter-spacing="6.0">2000</text>
<text transform="translate(162.25,614.70) scale(0.8750,1)" style="font-kerning:none" font-size="69" stroke="#000" stroke-width="2.6" stroke-linejoin="miter" stroke-miterlimit="2" letter-spacing="6.0">3000</text>
<text transform="translate(162.25,391.80) scale(0.8750,1)" style="font-kerning:none" font-size="69" stroke="#000" stroke-width="2.6" stroke-linejoin="miter" stroke-miterlimit="2" letter-spacing="6.0">4000</text>
<text transform="translate(162.25,165.20) scale(0.8750,1)" style="font-kerning:none" font-size="69" stroke="#000" stroke-width="2.6" stroke-linejoin="miter" stroke-miterlimit="2" letter-spacing="6.0">5000</text>
<text transform="translate(324.93,1364.20) scale(0.8750,1)" style="font-kerning:none" font-size="69" stroke="#000" stroke-width="2.6" stroke-linejoin="miter" stroke-miterlimit="2" letter-spacing="6.0">400</text>
<text transform="translate(559.85,1364.20) scale(0.8750,1)" style="font-kerning:none" font-size="69" stroke="#000" stroke-width="2.6" stroke-linejoin="miter" stroke-miterlimit="2" letter-spacing="6.0">600</text>
<text transform="translate(792.15,1364.20) scale(0.8750,1)" style="font-kerning:none" font-size="69" stroke="#000" stroke-width="2.6" stroke-linejoin="miter" stroke-miterlimit="2" letter-spacing="6.0">800</text>
<text transform="translate(1009.54,1364.20) scale(0.8750,1)" style="font-kerning:none" font-size="69" stroke="#000" stroke-width="2.6" stroke-linejoin="miter" stroke-miterlimit="2" letter-spacing="6.0" clip-path="url(#c1_69_2_6)">1000</text>
<text transform="translate(1245.24,1364.20) scale(0.8750,1)" style="font-kerning:none" font-size="69" stroke="#000" stroke-width="2.6" stroke-linejoin="miter" stroke-miterlimit="2" letter-spacing="6.0" clip-path="url(#c1_69_2_6)">1200</text>
<text transform="translate(1480.79,1364.20) scale(0.8750,1)" style="font-kerning:none" font-size="69" stroke="#000" stroke-width="2.6" stroke-linejoin="miter" stroke-miterlimit="2" letter-spacing="6.0" clip-path="url(#c1_69_2_6)">1400</text>
<text transform="translate(1716.39,1364.20) scale(0.8750,1)" style="font-kerning:none" font-size="69" stroke="#000" stroke-width="2.6" stroke-linejoin="miter" stroke-miterlimit="2" letter-spacing="6.0" clip-path="url(#c1_69_2_6)">1600</text>
<text transform="translate(1947.64,1364.20) scale(0.8750,1)" style="font-kerning:none" font-size="69" stroke="#000" stroke-width="2.6" stroke-linejoin="miter" stroke-miterlimit="2" letter-spacing="6.0" clip-path="url(#c1_69_2_6)">1800</text>
<text transform="translate(94.60,942.45) rotate(-90) scale(1.0620,1)" style="font-kerning:none" font-size="80" stroke="#000" stroke-width="3.2" stroke-linejoin="miter" stroke-miterlimit="2">intensity (counts)</text>
<text transform="translate(969.59,394.00) scale(1.1034,1)" style="font-kerning:none" font-size="56" font-weight="bold">nanostar</text>
<text transform="translate(922.49,791.70) scale(1.1270,1)" style="font-kerning:none" font-size="56" font-weight="bold">nanotriangle</text>
<text transform="translate(888.11,1057.70) scale(1.0981,1)" style="font-kerning:none" font-size="56" font-weight="bold">nanosphere</text>
<text y="1520" style="font-kerning:none" font-size="84" stroke="#000" stroke-width="3.2" stroke-linejoin="miter" stroke-miterlimit="2" clip-path="url(#cx)"><tspan x="800.00" textLength="680.00" lengthAdjust="spacingAndGlyphs">wavenumber (cm</tspan><tspan x="1478.50" dy="-30">-1</tspan><tspan x="1559.50" dy="30" textLength="21.00" lengthAdjust="spacingAndGlyphs">)</tspan></text>
</g>
</svg>
</body>
</html>
